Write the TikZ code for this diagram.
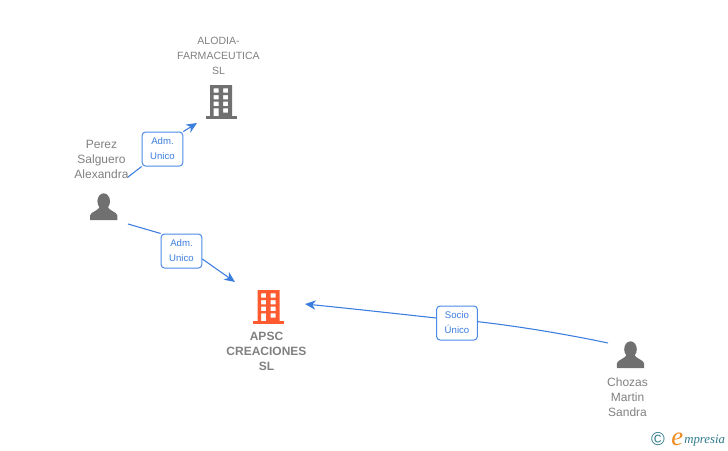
\documentclass[tikz,border=0pt]{standalone}
\usepackage{fontspec}
\setmainfont{Liberation Sans}
\newfontfamily\logofont{Liberation Serif}
\usepackage{xcolor}
\usetikzlibrary{arrows.meta,positioning}
\definecolor{linkblue}{HTML}{3B7DDD}
\definecolor{boxblue}{HTML}{4A8BE8}
\definecolor{namegray}{HTML}{808080}
\definecolor{icongray}{HTML}{707070}
\definecolor{iconorange}{HTML}{FF5A30}
\definecolor{logoteal}{HTML}{2F7A8C}
\definecolor{logoorange}{HTML}{F08A1D}

\begin{document}
\begin{tikzpicture}[
    x=0.75pt, y=-0.75pt,
    >={Stealth[length=8pt,width=7pt,inset=2.5pt]},
    nametext/.style={align=center, text=namegray, inner sep=0pt, font=\fontsize{9}{11.25}\selectfont},
    smallname/.style={nametext, font=\fontsize{7.9}{11.25}\selectfont},
    boldname/.style={nametext, font=\fontsize{9}{11.25}\selectfont\bfseries},
    role/.style={draw=boxblue, fill=white, rounded corners=2.5pt, line width=0.75pt, align=center,
        text=linkblue, inner sep=0pt, minimum width=30.5pt, minimum height=25.5pt,
        font=\fontsize{7.2}{11.25}\selectfont},
    link/.style={draw=linkblue, line width=0.8pt},
    building/.pic={
        \fill (-15.5,14.7) rectangle (15.5,17.7);
        \fill[even odd rule] (-11,-16) rectangle (11,15)
            (-7.3,-12.7) rectangle (-2.3,-8.3) (2,-12.7) rectangle (7,-8.3)
            (-7.3,-6) rectangle (-2.3,-1.7) (2,-6) rectangle (7,-1.7)
            (-7.3,0.7) rectangle (-2.3,5) (2,0.7) rectangle (7,5)
            (-7.3,7.3) rectangle (-2.3,15) (2,7.3) rectangle (7,11.7);
    },
    person/.pic={
        \fill (0,-5.7) ellipse (6.3 and 8);
        \fill (-13.7,13) -- (-13.7,8.5) .. controls (-13,4.5) and (-5,4) .. (-3.5,-1)
            -- (3.5,-1) .. controls (5,4) and (13,4.5) .. (13.7,8.5) -- (13.7,13) -- cycle;
    }
]
\useasboundingbox (0,0) rectangle (728,450);

% ---- Companies ----
\node[smallname] (alodia) at (218.5,56) {ALODIA-\\FARMACEUTICA\\SL};
\pic[icongray] at (221,101) {building};
\node[boldname] (apsc) at (266.5,351) {APSC\\CREACIONES\\SL};
\pic[iconorange] at (268.5,306) {building};

% ---- People ----
\node[nametext] (perez) at (101.5,159) {Perez\\Salguero\\Alexandra};
\pic[icongray] at (103.7,207) {person};
\node[nametext] (chozas) at (627.5,397) {Chozas\\Martin\\Sandra};
\pic[icongray] at (630.5,355) {person};

% ---- Connector ends ----
\coordinate (perezup) at (128,177);
\coordinate (perezdown) at (128,224);
\coordinate (alodiain) at (197,123);
\coordinate (apscin) at (235,282);
\coordinate (apscright) at (305,304);
\coordinate (chozasout) at (608,343);

% ---- Links ----
\node[role] (adm1) at (162.5,149) {Adm.\\Unico};
\node[role] (adm2) at (181.5,251) {Adm.\\Unico};
\node[role] (socio) at (457,323) {Socio\\Único};
\draw[link] (perezup) -- (adm1.south west);
\draw[link, ->] (adm1.north east) -- (alodiain);
\draw[link] (perezdown) -- (adm2.north west);
\draw[link, ->] ([yshift=-6pt]adm2.east) -- (apscin);
\draw[link] (chozasout) .. controls (565,334) and (520,326.5) .. ([yshift=1pt]socio.east);
\draw[link, ->] ([yshift=3.75pt]socio.west) .. controls (395,313.5) and (350,308.5) .. (apscright);

% ---- Logo ----
\node[inner sep=0pt, text=logoteal, font=\fontsize{14}{14}\selectfont] (copyr) at (658,439) {\textcopyright};
\node[inner sep=0pt, text=logoorange, font=\logofont\itshape\fontsize{20}{20}\selectfont, anchor=base west] (logoe) at (671,445) {e};
\node[inner sep=0pt, text=logoteal, font=\logofont\itshape\fontsize{9.6}{10}\selectfont, anchor=base west] (logotext) at (684,443) {mpresia};

\end{tikzpicture}
\end{document}
